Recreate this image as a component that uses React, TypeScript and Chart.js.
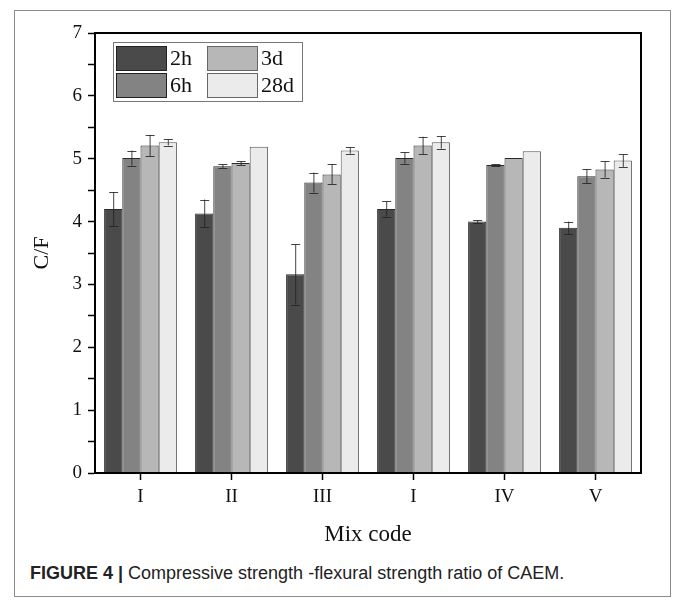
import React, { useEffect, useRef } from "react";
import { Chart, registerables } from "chart.js";

Chart.register(...registerables);

const categories = ["I", "II", "III", "I", "IV", "V"];
const seriesLabels = ["2h", "6h", "3d", "28d"];
const values2h = [4.2, 4.13, 3.16, 4.2, 4.0, 3.9];
const values6h = [5.01, 4.88, 4.62, 5.01, 4.9, 4.72];
const values3d = [5.21, 4.93, 4.75, 5.21, 5.01, 4.83];
const values28d = [5.26, 5.19, 5.13, 5.26, 5.12, 4.97];
const err2h = [0.27, 0.22, 0.48, 0.12, 0.02, 0.1];
const err6h = [0.12, 0.03, 0.16, 0.09, 0.01, 0.11];
const err3d = [0.17, 0.03, 0.16, 0.14, 0.0, 0.13];
const err28d = [0.05, 0.0, 0.05, 0.1, 0.0, 0.1];
const seriesColors = ["#4a4a4a", "#838383", "#b7b7b7", "#ebebeb"];
const yMin = 0;
const yMax = 7;

const allValues = [values2h, values6h, values3d, values28d];
const allErrors = [err2h, err6h, err3d, err28d];

const errorBarPlugin = {
  id: "errorBars",
  afterDatasetsDraw(chart: any) {
    const ctx = chart.ctx;
    const y = chart.scales.y;
    ctx.save();
    chart.data.datasets.forEach((ds: any, i: number) => {
      const meta = chart.getDatasetMeta(i);
      const errs = ds.errors as number[];
      meta.data.forEach((el: any, j: number) => {
        const e = errs[j];
        if (!e) return;
        const v = ds.data[j];
        const top = y.getPixelForValue(v + e);
        const bot = y.getPixelForValue(v - e);
        const x = el.x;
        ctx.strokeStyle = "rgba(35,35,35,0.85)";
        ctx.lineWidth = 1;
        ctx.beginPath();
        ctx.moveTo(x + 0.5, top);
        ctx.lineTo(x + 0.5, bot);
        ctx.moveTo(x - 4, Math.round(top) + 0.5);
        ctx.lineTo(x + 5, Math.round(top) + 0.5);
        ctx.moveTo(x - 4, Math.round(bot) + 0.5);
        ctx.lineTo(x + 5, Math.round(bot) + 0.5);
        ctx.stroke();
      });
    });
    ctx.restore();
  },
};

const framePlugin = {
  id: "frame",
  afterDraw(chart: any) {
    const { ctx, chartArea } = chart;
    ctx.save();
    ctx.strokeStyle = "#000";
    ctx.lineWidth = 2;
    ctx.strokeRect(chartArea.left, chartArea.top, chartArea.right - chartArea.left, chartArea.bottom - chartArea.top);
    ctx.restore();
  },
};

const legendPlugin = {
  id: "innerLegend",
  afterDraw(chart: any) {
    const { ctx, chartArea } = chart;
    const bx = chartArea.left + 18;
    const by = chartArea.top + 9;
    const bw = 189;
    const bh = 59;
    ctx.save();
    ctx.fillStyle = "#fff";
    ctx.fillRect(bx, by, bw, bh);
    ctx.strokeStyle = "#777";
    ctx.lineWidth = 1;
    ctx.strokeRect(bx + 0.5, by + 0.5, bw, bh);
    ctx.font = "22px 'Liberation Serif'";
    ctx.textBaseline = "middle";
    ctx.fillStyle = "#111";
    chart.data.datasets.forEach((ds: any, i: number) => {
      const col = i < 2 ? 0 : 1;
      const row = i % 2;
      const sx = bx + 3 + col * 91;
      const sy = by + 4 + row * 27;
      ctx.fillStyle = ds.backgroundColor;
      ctx.fillRect(sx, sy, 50, 24);
      ctx.strokeStyle = i < 2 ? "#222" : "#666";
      ctx.strokeRect(sx + 0.5, sy + 0.5, 50, 24);
      ctx.fillStyle = "#111";
      ctx.fillText(ds.label, sx + 54, sy + 13);
    });
    ctx.restore();
  },
};

function BarChart() {
  const ref = useRef<HTMLCanvasElement>(null);
  useEffect(() => {
    if (!ref.current) return;
    Chart.defaults.font.family = "'Liberation Serif'";
    Chart.defaults.color = "#111";
    const chart = new Chart(ref.current, {
      type: "bar",
      data: {
        labels: categories,
        datasets: seriesLabels.map((label, i) => ({
          label,
          data: allValues[i],
          errors: allErrors[i],
          backgroundColor: seriesColors[i],
          borderColor: i < 3 ? "#2a2a2a" : "#555",
          borderWidth: 1,
          categoryPercentage: 0.8,
          barPercentage: 1,
        })) as any,
      },
      options: {
        responsive: false,
        animation: false,
        layout: { padding: { left: 0, right: 33, top: 33, bottom: 7 } },
        plugins: { legend: { display: false }, tooltip: { enabled: false } },
        scales: {
          x: {
            offset: true,
            grid: { display: true, drawOnChartArea: false, offset: false, tickLength: 7, color: "#000", tickWidth: 1.5 },
            border: { display: true, color: "#000", width: 2 },
            ticks: { font: { size: 19 }, padding: 6, color: "#111", autoSkip: false, maxRotation: 0 },
            title: { display: true, text: "Mix code", font: { size: 23 }, padding: { top: 0, bottom: 4 }, color: "#111" },
            afterFit: (s: any) => { s.height = 80; },
          },
          y: {
            min: yMin,
            max: yMax,
            grid: { display: true, drawOnChartArea: false, tickLength: 7, color: "#000", tickWidth: 1.5 },
            border: { display: true, color: "#000", width: 2 },
            ticks: {
              stepSize: 0.5,
              autoSkip: false,
              font: { size: 19 },
              padding: 6,
              color: "#111",
              callback: (v: any) => (Number.isInteger(v) ? String(v) : ""),
            },
            title: { display: true, text: "C/F", font: { size: 22 }, padding: { top: 29, bottom: 0 }, color: "#111" },
            afterFit: (s: any) => { s.width = 95; },
          },
        },
      },
      plugins: [errorBarPlugin, framePlugin, legendPlugin],
    });
    return () => chart.destroy();
  }, []);
  return <canvas ref={ref} width={674} height={560} style={{ position: "absolute", left: 0, top: 0 }} />;
}

export default function App() {
  return (
    <div style={{ position: "absolute", left: 0, top: 0, width: 674, height: 604, background: "#fff", overflow: "hidden" }}>
      <div style={{ position: "absolute", left: 14, top: 10, width: 657, height: 587, border: "1px solid #8c8c8c", boxSizing: "border-box" }} />
      <BarChart />
      <div
        style={{
          position: "absolute",
          left: 30,
          top: 562,
          fontFamily: "'Liberation Sans', Arial, sans-serif",
          fontSize: 18,
          color: "#222",
          whiteSpace: "nowrap",
          lineHeight: "22px",
        }}
      >
        <b>FIGURE 4 |</b> Compressive strength -flexural strength ratio of CAEM.
      </div>
    </div>
  );
}
